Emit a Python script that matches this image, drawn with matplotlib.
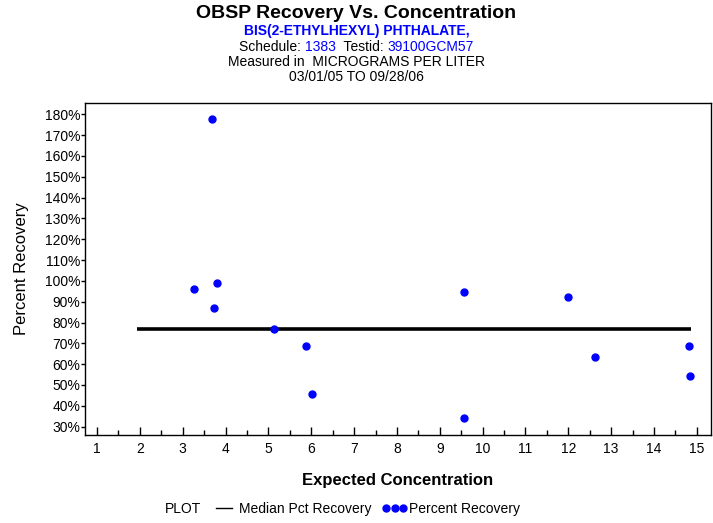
import matplotlib.pyplot as plt
from matplotlib.lines import Line2D
from matplotlib.ticker import MultipleLocator, FuncFormatter

plt.rcParams['font.family'] = ['Liberation Sans', 'DejaVu Sans']

# data
conc = [3.27, 3.69, 3.80, 3.74, 5.14, 5.88, 6.02, 9.57, 9.57, 12.00, 12.62, 14.82, 14.84]
recovery = [96.0, 177.6, 98.9, 86.9, 76.9, 68.8, 45.7, 34.0, 94.8, 92.3, 63.2, 68.6, 54.4]
median_x = [1.93, 14.87]
median_y = [77.0, 77.0]
blue = '#0000FF'

fig = plt.figure(figsize=(7.13, 5.23), dpi=100)
ax = fig.add_axes([0.1192, 0.1683, 0.878, 0.6348])

ax.plot(median_x, median_y, color='black', lw=2.6, solid_capstyle='butt')
ax.plot(conc, recovery, ls='none', marker='o', ms=5, color=blue, mec=blue)

ax.set_xlim(0.72, 15.33)
ax.set_ylim(26, 185.4)
ax.xaxis.set_major_locator(MultipleLocator(1))
ax.xaxis.set_minor_locator(MultipleLocator(0.5))
ax.yaxis.set_major_locator(MultipleLocator(10))
ax.yaxis.set_major_formatter(FuncFormatter(lambda v, p: f'{v:.0f}%'))
ax.tick_params(axis='x', which='major', direction='in', length=6, width=1, labelsize=10, pad=5)
ax.tick_params(axis='x', which='minor', direction='in', length=3.5, width=1)
ax.tick_params(axis='y', which='major', direction='out', length=3, width=1, labelsize=10, pad=0.5)
for s in ax.spines.values():
    s.set_linewidth(1)

ax.set_ylabel('Percent Recovery', fontsize=12, labelpad=11)
ax.set_xlabel('Expected Concentration', fontsize=12, fontweight='bold', labelpad=12)

# header
fig.text(0.5, 1 - 13 / 523, 'OBSP Recovery Vs. Concentration', ha='center', va='center',
         fontsize=14, fontweight='bold')
fig.text(0.5, 1 - 31 / 523, 'BIS(2-ETHYLHEXYL) PHTHALATE,', ha='center', va='center',
         fontsize=10, fontweight='bold', color=blue)
# schedule line with mixed colours
parts = [('Schedule: ', 'black'), ('1383', blue), ('  Testid: ', 'black'), ('39100GCM57', blue)]
fig.canvas.draw()
rend = fig.canvas.get_renderer()
tmp = [fig.text(0, 0, t, fontsize=10) for t, _ in parts]
widths = [t.get_window_extent(rend).width for t in tmp]
for t in tmp:
    t.remove()
x0 = (713 - sum(widths)) / 2
for (t, c), w in zip(parts, widths):
    fig.text(x0 / 713, 1 - 47 / 523, t, ha='left', va='center', fontsize=10, color=c)
    x0 += w
fig.text(0.5, 1 - 62 / 523, 'Measured in  MICROGRAMS PER LITER', ha='center', va='center', fontsize=10)
fig.text(0.5, 1 - 77 / 523, '03/01/05 TO 09/28/06', ha='center', va='center', fontsize=10)

# legend
fig.text(165 / 713, 1 - 509 / 523, 'PLOT', ha='left', va='center', fontsize=10)
handles = [Line2D([], [], color='black', lw=1),
           Line2D([], [], ls='none', marker='o', ms=5, color=blue)]
fig.legend(handles, ['Median Pct Recovery', 'Percent Recovery'], loc='center left',
           bbox_to_anchor=(199 / 713, 1 - 509 / 523), ncol=2, frameon=False, fontsize=10,
           numpoints=3, handlelength=1.8, handletextpad=0.15, columnspacing=0.8,
           markerscale=1.0)

fig.savefig('out.png', dpi=100)
